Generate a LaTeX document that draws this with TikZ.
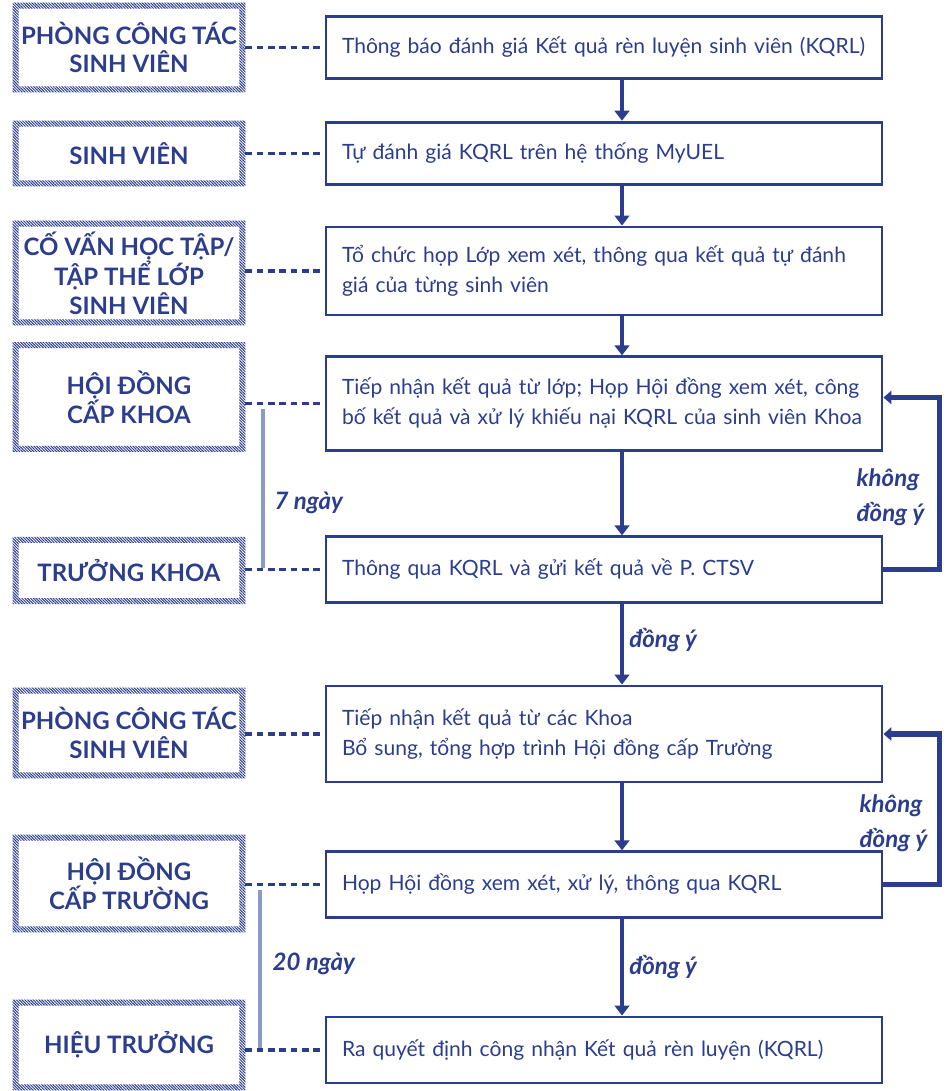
\documentclass[tikz,border=0pt]{standalone}
\usepackage{fontspec}
\setmainfont{Lato}
\usetikzlibrary{arrows.meta}
\usetikzlibrary{patterns.meta}
\definecolor{navy}{RGB}{43,61,140}
\definecolor{pale}{RGB}{140,154,200}
\tikzset{
  stepbox/.style={draw=navy, line width=2.2pt, minimum width=417pt, text width=393pt, inner xsep=12pt, align=left, text=navy, font=\fontsize{15.8}{22.5}\selectfont},
  unitbox/.style={minimum width=174pt, text=navy, align=center, font=\fontsize{18}{21.5}\selectfont\bfseries},
  link/.style={navy, line width=2.3pt, dash pattern=on 5pt off 3.5pt},
  flow/.style={navy, line width=2.3pt, -{Triangle[length=7.5pt,width=11pt]}},
  back/.style={navy, line width=4pt, -{Triangle[length=6pt,width=10pt]}},
  days/.style={pale, line width=2.6pt},
  note/.style={text=navy, font=\fontsize{18}{26}\selectfont\bfseries\itshape}
}
\newcommand{\hatchframe}[1]{%
  \fill[pattern={Lines[angle=-45,distance=1.5pt,line width=0.75pt]}, pattern color=navy, even odd rule]
    (#1.south west) rectangle (#1.north east)
    ([shift={(4.5pt,4.5pt)}]#1.south west) rectangle ([shift={(-4.5pt,-4.5pt)}]#1.north east);}

\begin{document}
\begin{tikzpicture}[x=0.75pt, y=-0.75pt]
\useasboundingbox (0,0) rectangle (946,1091);
\node[stepbox, minimum height=47pt] (step one) at (604,47.5) {Thông báo đánh giá Kết quả rèn luyện sinh viên (KQRL)};
\node[stepbox, minimum height=47pt] (step two) at (604,153.5) {Tự đánh giá KQRL trên hệ thống MyUEL};
\node[stepbox, minimum height=66pt] (step three) at (604,271) {Tổ chức họp Lớp xem xét, thông qua kết quả tự đánh\\giá của từng sinh viên};
\node[stepbox, minimum height=70pt] (step four) at (604,403.5) {Tiếp nhận kết quả từ lớp; Họp Hội đồng xem xét, công\\bố kết quả và xử lý khiếu nại KQRL của sinh viên Khoa};
\node[stepbox, minimum height=49pt] (step five) at (604,569.5) {Thông qua KQRL và gửi kết quả về P. CTSV};
\node[stepbox, minimum height=72pt] (step six) at (604,734) {Tiếp nhận kết quả từ các Khoa\\Bổ sung, tổng hợp trình Hội đồng cấp Trường};
\node[stepbox, minimum height=49pt] (step seven) at (604,884.5) {Họp Hội đồng xem xét, xử lý, thông qua KQRL};
\node[stepbox, minimum height=49.5pt] (step eight) at (604,1050) {Ra quyết định công nhận Kết quả rèn luyện (KQRL)};

\node[unitbox, minimum height=67pt] (unit one) at (129,47.5) {PHÒNG CÔNG TÁC\\SINH VIÊN};
\node[unitbox, minimum height=49pt] (unit two) at (129,153.5) {SINH VIÊN};
\node[unitbox, minimum height=78pt] (unit three) at (129,273) {CỐ VẤN HỌC TẬP/\\TẬP THỂ LỚP\\SINH VIÊN};
\node[unitbox, minimum height=82pt] (unit four) at (129,397) {HỘI ĐỒNG\\CẤP KHOA};
\node[unitbox, minimum height=50pt] (unit five) at (129,570.5) {TRƯỞNG KHOA};
\node[unitbox, minimum height=67.5pt] (unit six) at (129,733) {PHÒNG CÔNG TÁC\\SINH VIÊN};
\node[unitbox, minimum height=73pt] (unit seven) at (129,883.5) {HỘI ĐỒNG\\CẤP TRƯỜNG};
\node[unitbox, minimum height=67.5pt] (unit eight) at (129,1045) {HIỆU TRƯỞNG};
\hatchframe{unit one}
\hatchframe{unit two}
\hatchframe{unit three}
\hatchframe{unit four}
\hatchframe{unit five}
\hatchframe{unit six}
\hatchframe{unit seven}
\hatchframe{unit eight}

\draw[link] (unit one.east |- step one.west) -- (step one.west);
\draw[link] (unit two.east |- step two.west) -- (step two.west);
\draw[link] (unit three.east |- step three.west) -- (step three.west);
\draw[link] (unit four.east |- step four.west) -- (step four.west);
\draw[link] (unit five.east |- step five.west) -- (step five.west);
\draw[link] (unit six.east |- step six.west) -- (step six.west);
\draw[link] (unit seven.east |- step seven.west) -- (step seven.west);
\draw[link] (unit eight.east |- step eight.west) -- (step eight.west);

\coordinate (spine) at (622,0);
\draw[flow] (step one.south -| spine) -- (step two.north -| spine);
\draw[flow] (step two.south -| spine) -- (step three.north -| spine);
\draw[flow] (step three.south -| spine) -- (step four.north -| spine);
\draw[flow] (step four.south -| spine) -- (step five.north -| spine);
\draw[flow] (step five.south -| spine) -- (step six.north -| spine) node[note, pos=0.45, right, xshift=1pt] (agree one) {đồng ý};
\draw[flow] (step six.south -| spine) -- (step seven.north -| spine);
\draw[flow] (step seven.south -| spine) -- (step eight.north -| spine) node[note, pos=0.5, right, xshift=1pt] (agree two) {đồng ý};

\draw[back] (step five.east) -- ++(56,0) |- ([yshift=4.5pt]step four.east);
\draw[back] (step seven.east) -- ++(56,0) |- (step six.east);
\node[note, anchor=west, align=left] (refuse one) at (852,497) {không\\đồng ý};
\node[note, anchor=west, align=left] (refuse two) at (855,823) {không\\đồng ý};

%%deadlines
\draw[days] (263,409) -- (263,568);
\node[note, anchor=west] (week) at (270,503) {7 ngày};
\draw[days] (260,890) -- (260,1048);
\node[note, anchor=west] (month) at (268,964) {20 ngày};
\end{tikzpicture}
\end{document}
